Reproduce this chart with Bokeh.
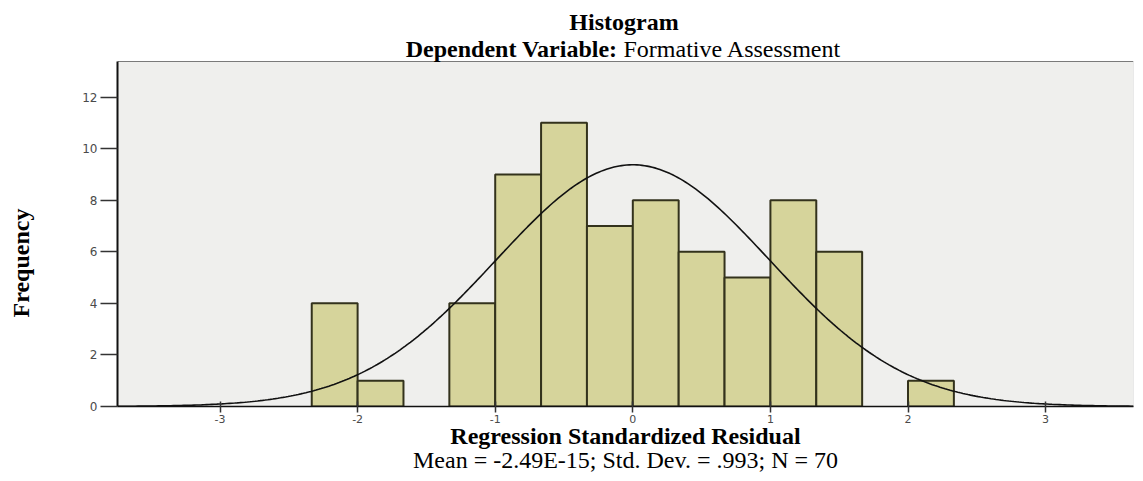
import numpy as np
from bokeh.plotting import figure
from bokeh.models import Range1d, FixedTicker, Label, Title, LinearAxis
from bokeh.embed import file_html
from bokeh.resources import INLINE

# ---- data ----
bin_lower = [-7/3, -2, -4/3, -1, -2/3, -1/3, 0, 1/3, 2/3, 1, 4/3, 2]
counts = [4, 1, 4, 9, 11, 7, 8, 6, 5, 8, 6, 1]
bin_width = 1/3
x_ticks = [-3, -2, -1, 0, 1, 2, 3]
y_ticks = [0, 2, 4, 6, 8, 10, 12]
res_mean = -2.49e-15
res_sd = 0.993
res_n = 70

title_text = "Histogram"
subtitle_bold = "Dependent Variable:"
subtitle_rest = "Formative Assessment"
x_title = "Regression Standardized Residual"
stats_text = "Mean = -2.49E-15; Std. Dev. = .993; N = 70"
y_title = "Frequency"

# ---- figure geometry ----
W, H = 1135, 473
BL, BR, BT, BB = 117, 2, 2, 67
PANEL_TOP_PX = 61            # top edge of the grey plotting panel
X0 = -3.745
SX = 137.6
X1 = X0 + (W - BL - BR) / SX
Y_PANEL = 13.38              # value at the top of the grey panel
SY = (H - BB - PANEL_TOP_PX) / Y_PANEL
Y_TOP = Y_PANEL + (PANEL_TOP_PX - BT) / SY

p = figure(width=W, height=H, output_backend="svg", toolbar_location=None,
           x_range=Range1d(X0, X1), y_range=Range1d(0, Y_TOP),
           min_border_left=BL, min_border_right=BR, min_border_top=BT,
           min_border_bottom=BB)
p.background_fill_color = "white"
p.border_fill_color = "white"
p.outline_line_color = None
p.xgrid.visible = False
p.ygrid.visible = False


def px(cx):
    return X0 + (cx - BL) / SX


def py(cy):
    return Y_TOP - (cy - BT) / SY


# grey plotting panel with its top border
p.quad(left=X0, right=X1, bottom=0, top=Y_PANEL, fill_color="#efefed", line_color=None)
p.segment(x0=X0, y0=Y_PANEL, x1=X1, y1=Y_PANEL, line_color="#7a7a7a", line_width=1.2)
p.segment(x0=X1, y0=0, x1=X1, y1=Y_PANEL, line_color="#d8d8d8", line_width=1)

lefts = np.array(bin_lower)
p.quad(left=lefts, right=lefts + bin_width, bottom=0, top=counts,
       fill_color="#d6d49b", line_color="#33321c", line_width=2)

xs = np.linspace(X0, X1, 400)
ys = res_n * bin_width / (res_sd * np.sqrt(2 * np.pi)) * np.exp(-0.5 * ((xs - res_mean) / res_sd) ** 2)
p.line(xs, ys, line_color="#111111", line_width=1.6)

# axes
p.xaxis.ticker = FixedTicker(ticks=x_ticks)
p.xaxis.major_label_overrides = {t: str(t) for t in x_ticks}
p.yaxis.ticker = FixedTicker(ticks=y_ticks)
p.yaxis.bounds = (0, Y_PANEL)
for ax in (p.xaxis, p.yaxis):
    ax.minor_tick_line_color = None
    ax.major_label_text_font = "DejaVu Sans"
    ax.major_label_text_color = "#4a4a4a"
    ax.axis_line_color = "#111111"
    ax.major_tick_line_color = "#333333"
p.xaxis.major_label_text_font_size = "11px"
p.yaxis.major_label_text_font_size = "12px"
p.yaxis.axis_line_width = 2
p.yaxis.major_tick_out = 17
p.yaxis.major_tick_in = 0
p.yaxis.major_tick_line_width = 1.5
p.yaxis.major_label_standoff = 3
p.xaxis.axis_line_width = 1.5
p.xaxis.major_tick_out = 6
p.xaxis.major_tick_in = 5
p.xaxis.major_tick_line_width = 1.5
p.xaxis.major_label_standoff = 2

FONT = "Liberation Serif"
FS = "24px"

# bare spacer axis (white tick on white) so the y title sits at the far left
spacer = LinearAxis(ticker=FixedTicker(ticks=[0]), bounds=(0, 0.01),
                    axis_line_color=None, major_tick_line_color="white",
                    major_tick_line_width=1, minor_tick_line_color=None,
                    major_tick_out=46, major_tick_in=0,
                    major_label_overrides={0: ""}, major_label_text_font_size="1px",
                    major_label_standoff=0)
p.add_layout(spacer, "left")
p.add_layout(Title(text=y_title, align="left", offset=89, text_font=FONT,
                   text_font_size=FS, text_font_style="bold", text_color="black",
                   standoff=0), "left")

p.add_layout(Title(text=x_title, align="center", text_font=FONT, text_font_size=FS,
                   text_font_style="bold", text_color="black", standoff=-9), "below")
p.add_layout(Title(text=stats_text, align="center", text_font=FONT, text_font_size=FS,
                   text_font_style="normal", text_color="black", standoff=0), "below")


def add_label(text, x, y, align="center", bold=False):
    p.add_layout(Label(x=x, y=y, text=text, text_font=FONT, text_font_size=FS,
                       text_font_style="bold" if bold else "normal",
                       text_align=align, text_baseline="alphabetic",
                       text_color="black"))


add_label(title_text, px(623.5), py(21), bold=True)
add_label(subtitle_bold, px(617), py(48), align="right", bold=True)
add_label(subtitle_rest, px(623), py(48), align="left")

open("out.html", "w").write(file_html(p, INLINE))
